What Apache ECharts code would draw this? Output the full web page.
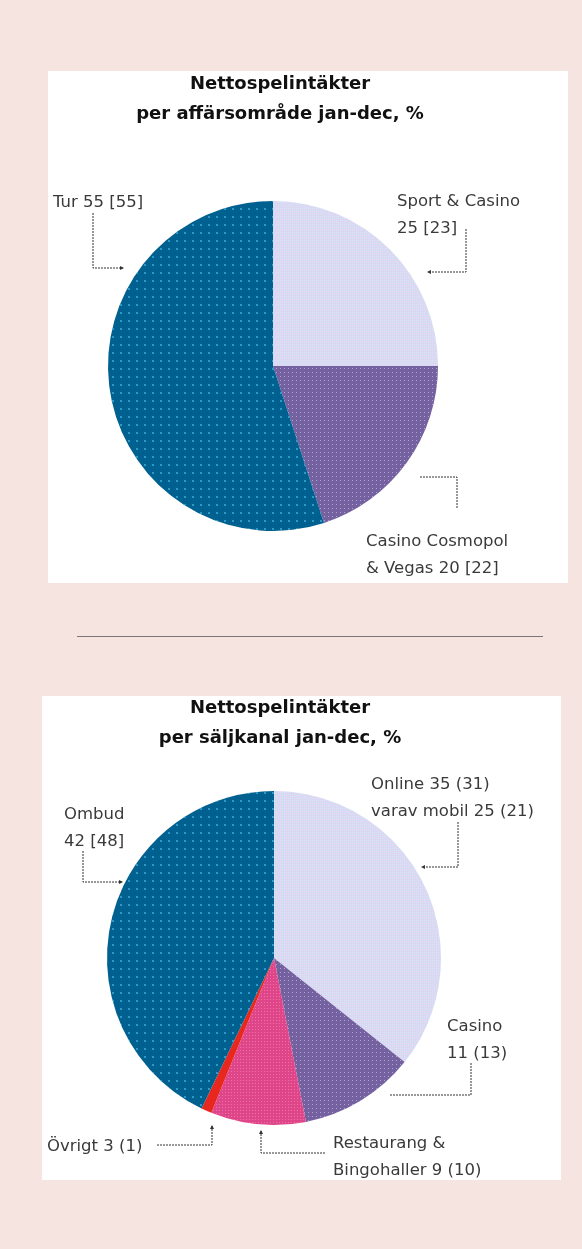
<!DOCTYPE html>
<html>
<head>
<meta charset="utf-8">
<script src="https://cdn.jsdelivr.net/npm/echarts@6/dist/echarts.min.js"></script>
<style>
  html, body { margin: 0; padding: 0; background: #f6e4e1; }
  #chart { width: 582px; height: 1249px; }
</style>
</head>
<body>
<div id="chart"></div>
<script>
// chart 1: per affärsområde
const areaNames = ["Sport & Casino", "Casino Cosmopol & Vegas", "Tur"];
const areaShare = [25, 20, 55];
const areaPrev = [23, 22, 55];

// chart 2: per säljkanal
const channelNames = ["Online", "Casino", "Restaurang & Bingohaller", "Övrigt", "Ombud"];
const channelShare = [35, 11, 9, 3, 42];
const channelPrev = [31, 13, 10, 1, 48];
// slice sizes as printed in the source graphic (Övrigt drawn very thin)
const channelDrawn = [35, 11, 9, 1, 42];
const mobileShare = 25;
const mobilePrev = 21;

const FONT = "DejaVu Sans";
const TXT = "#3a3a3a";

const fills = {
  blue: { color: "#00608f", decal: { symbol: "rect", symbolSize: 1, dashArrayX: [2, 6], dashArrayY: [2, 6], color: "rgba(60,175,215,0.75)" } },
  light: { color: "#dcd6f2", decal: { symbol: "rect", symbolSize: 1, dashArrayX: [1, 1], dashArrayY: [1, 1], color: "rgba(200,245,245,0.55)" } },
  purple: { color: "#74619f", decal: { symbol: "rect", symbolSize: 1, dashArrayX: [1, 3], dashArrayY: [1, 3], color: "rgba(215,185,235,0.7)" } },
  pink: { color: "#df4689", decal: { symbol: "rect", symbolSize: 1, dashArrayX: [1, 2], dashArrayY: [1, 2], color: "rgba(250,140,190,0.6)" } },
  red: { color: "#e8281e" }
};
const areaFill = [fills.light, fills.purple, fills.blue];
const channelFill = [fills.light, fills.purple, fills.pink, fills.red, fills.blue];

// label placement (left x, first line centre y) and elbow leader lines
const areaLabels = [
  { i: 0, x: 397, y: 198, text: (n, v, p) => `${n}\n${v} [${p}]`, line: [[466, 229], [466, 272], [428, 272]], arrow: "left" },
  { i: 1, x: 366, y: 538, text: (n, v, p) => `${n.replace(" & ", "\n& ")} ${v} [${p}]`, line: [[457, 508], [457, 477], [419, 477]], arrow: null },
  { i: 2, x: 53, y: 199, text: (n, v, p) => `${n} ${v} [${p}]`, line: [[93, 213], [93, 268], [123, 268]], arrow: "right" }
];
const channelLabels = [
  { i: 0, x: 371, y: 781, text: (n, v, p) => `${n} ${v} (${p})\nvarav mobil ${mobileShare} (${mobilePrev})`, line: [[458, 822], [458, 867], [422, 867]], arrow: "left" },
  { i: 1, x: 447, y: 1023, text: (n, v, p) => `${n}\n${v} (${p})`, line: [[471, 1063], [471, 1095], [389, 1095]], arrow: null },
  { i: 2, x: 333, y: 1140, text: (n, v, p) => `${n.replace(" & ", " &\n")} ${v} (${p})`, line: [[325, 1153], [261, 1153], [261, 1131]], arrow: "up" },
  { i: 3, x: 47, y: 1143, text: (n, v, p) => `${n} ${v} (${p})`, line: [[157, 1145], [212, 1145], [212, 1126]], arrow: "up" },
  { i: 4, x: 64, y: 811, text: (n, v, p) => `${n}\n${v} [${p}]`, line: [[83, 851], [83, 882], [122, 882]], arrow: "right" }
];

function arrowHead(pt, dir) {
  const [x, y] = pt;
  const s = 3;
  const pts = {
    left: [[x - 1, y], [x + s, y - 2], [x + s, y + 2]],
    right: [[x + 1, y], [x - s, y - 2], [x - s, y + 2]],
    up: [[x, y - 1], [x - 2, y + s], [x + 2, y + s]]
  }[dir];
  return { type: "polygon", z: 20, shape: { points: pts }, style: { fill: "#333" } };
}

function labelGraphics(defs, names, share, prev) {
  const out = [];
  defs.forEach((d) => {
    out.push({
      type: "text", z: 20, x: d.x, y: d.y - 10,
      style: { text: d.text(names[d.i], share[d.i], prev[d.i]), font: `16.5px '${FONT}'`, fill: TXT, lineHeight: 27 }
    });
    out.push({
      type: "polyline", z: 20, shape: { points: d.line },
      style: { stroke: "#333", lineWidth: 1, lineDash: [2, 1], fill: null }
    });
    if (d.arrow) out.push(arrowHead(d.line[d.line.length - 1], d.arrow));
  });
  return out;
}

const myChart = echarts.init(document.getElementById("chart"));

const titleStyle = { fontFamily: FONT, fontSize: 18, fontWeight: "bold", color: "#111", lineHeight: 30 };

const option = {
  backgroundColor: "#f6e4e1",
  animation: false,
  title: [
    { text: "Nettospelintäkter\nper affärsområde jan-dec, %", left: 275, top: 64, textAlign: "center", textStyle: titleStyle },
    { text: "Nettospelintäkter\nper säljkanal jan-dec, %", left: 275, top: 688, textAlign: "center", textStyle: titleStyle }
  ],
  graphic: [
    { type: "rect", z: 0, shape: { x: 48, y: 71, width: 520, height: 512 }, style: { fill: "#fff" } },
    { type: "line", z: 0, shape: { x1: 77, y1: 636.5, x2: 543, y2: 636.5 }, style: { stroke: "#777", lineWidth: 1 } },
    { type: "rect", z: 0, shape: { x: 42, y: 696, width: 519, height: 484 }, style: { fill: "#fff" } },
    ...labelGraphics(areaLabels, areaNames, areaShare, areaPrev),
    ...labelGraphics(channelLabels, channelNames, channelShare, channelPrev)
  ],
  series: [
    {
      type: "pie",
      center: [273, 366],
      radius: 165,
      startAngle: 90,
      clockwise: true,
      silent: true,
      label: { show: false },
      labelLine: { show: false },
      data: areaNames.map((n, i) => ({ name: n, value: areaShare[i], itemStyle: areaFill[i] }))
    },
    {
      type: "pie",
      center: [274, 958],
      radius: 167,
      startAngle: 90,
      clockwise: true,
      silent: true,
      label: { show: false },
      labelLine: { show: false },
      data: channelNames.map((n, i) => ({ name: n, value: channelDrawn[i], itemStyle: channelFill[i] }))
    }
  ]
};
myChart.setOption(option);
</script>
</body>
</html>
